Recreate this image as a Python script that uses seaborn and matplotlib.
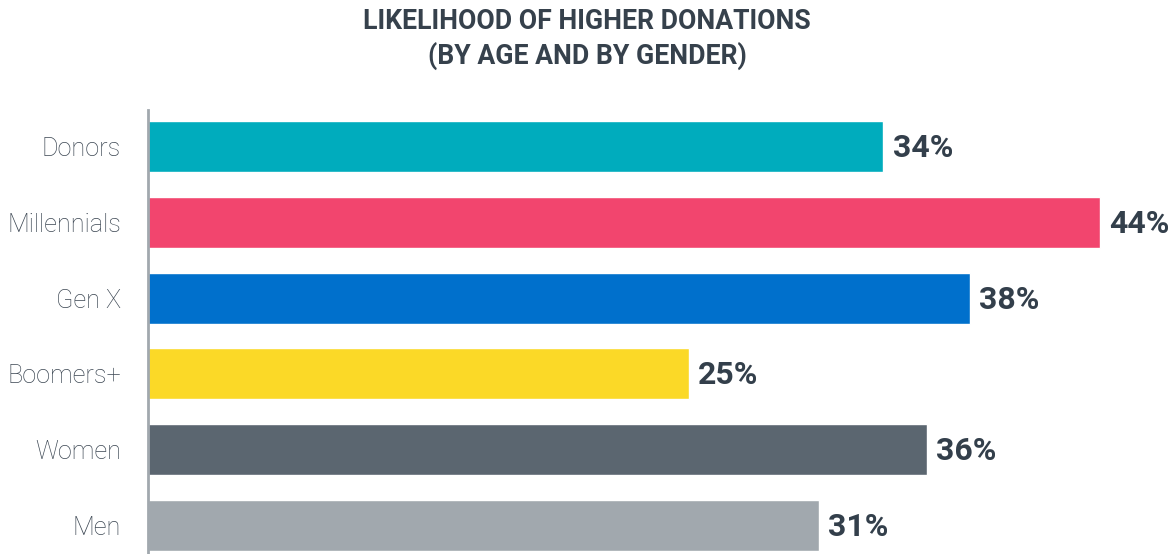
import matplotlib
matplotlib.use("Agg")
import matplotlib.pyplot as plt
import seaborn as sns
import pandas as pd

categories = ["Donors", "Millennials", "Gen X", "Boomers+", "Women", "Men"]
values = [34, 44, 38, 25, 36, 31]
colors = ["#00acbd", "#f2456e", "#0070cc", "#fbd927", "#5b6670", "#a1a8ae"]
title = "LIKELIHOOD OF HIGHER DONATIONS\n(BY AGE AND BY GENDER)"

sns.set_theme(style="white")
plt.rcParams["font.family"] = ["Roboto", "DejaVu Sans"]

W, H = 1174, 554
fig = plt.figure(figsize=(W / 100, H / 100), dpi=100)
ax = fig.add_axes([148 / W, 0 / H, (W - 148) / W, (554 - 110) / H])

df = pd.DataFrame({"cat": categories, "val": values})
sns.barplot(data=df, x="val", y="cat", hue="cat", palette=colors, order=categories,
            hue_order=categories, orient="h", width=0.673, legend=False, ax=ax,
            saturation=1)

ax.set_xlim(0, (W - 148) / 21.63)
ax.set_ylim(5.376, -0.482)
ax.set_xlabel("")
ax.set_ylabel("")
ax.set_xticks([])
for s in ["top", "right", "bottom"]:
    ax.spines[s].set_visible(False)
ax.spines["left"].set_color("#a1a8ae")
ax.spines["left"].set_linewidth(2)
ax.tick_params(axis="y", length=0, pad=19.5)
for lbl in ax.get_yticklabels():
    lbl.set_fontsize(18.2)
    lbl.set_fontweight("light")
    lbl.set_color("#3c4753")

for i, v in enumerate(values):
    ax.text(v + 0.42, i + 0.02, f"{v}%", va="center", ha="left", fontsize=23,
            fontweight="bold", color="#333f4b")

fig.text(0.5, 1 - 39 / H, title, ha="center", va="center", fontsize=19.2,
         fontweight="bold", color="#36414c", linespacing=1.3)

fig.savefig("out.png", dpi=100)
